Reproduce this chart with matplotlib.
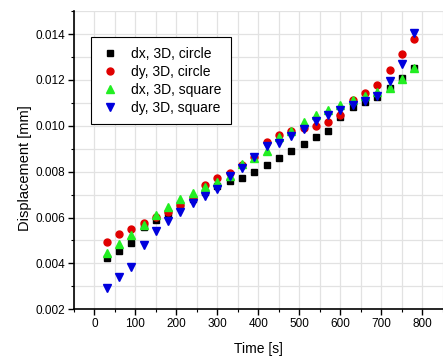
import matplotlib
matplotlib.use("Agg")
import matplotlib.pyplot as plt
from matplotlib.ticker import MultipleLocator

plt.rcParams['font.family'] = ['Liberation Sans', 'DejaVu Sans']

time_s = [30, 60, 90, 120, 150, 180, 210, 240, 270, 300, 330, 360, 390,
          420, 450, 480, 510, 540, 570, 600, 630, 660, 690, 720, 750, 780]

dx_circle = [0.00423, 0.00456, 0.00491, 0.00558, 0.00590, 0.00622, 0.00656, 0.00683,
             0.00713, 0.00739, 0.00760, 0.00773, 0.00799, 0.00831, 0.00861, 0.00891,
             0.00921, 0.00950, 0.00979, 0.01038, 0.01080, 0.01103, 0.01126, 0.01164,
             0.01208, 0.01251]
dy_circle = [0.00495, 0.00529, 0.00552, 0.00578, 0.00603, 0.00624, 0.00655, 0.00684,
             0.00744, 0.00772, 0.00796, 0.00830, 0.00862, 0.00931, 0.00962, 0.00979,
             0.00992, 0.01001, 0.01017, 0.01046, 0.01113, 0.01145, 0.01177, 0.01244,
             0.01313, 0.01378]
dx_square = [0.00447, 0.00485, 0.00525, 0.00569, 0.00611, 0.00648, 0.00681, 0.00706,
             0.00732, 0.00754, 0.00783, 0.00833, 0.00860, 0.00891, 0.00950, 0.00978,
             0.01017, 0.01046, 0.01070, 0.01090, 0.01113, 0.01128, 0.01148, 0.01166,
             0.01206, 0.01251]
dy_square = [0.00293, 0.00340, 0.00386, 0.00479, 0.00543, 0.00587, 0.00625, 0.00662,
             0.00694, 0.00724, 0.00779, 0.00815, 0.00863, 0.00913, 0.00924, 0.00955,
             0.00985, 0.01023, 0.01046, 0.01070, 0.01091, 0.01109, 0.01128, 0.01197,
             0.01269, 0.01404]

labels = ["dx, 3D, circle", "dy, 3D, circle", "dx, 3D, square", "dy, 3D, square"]

fig = plt.figure(figsize=(4.43, 3.58), dpi=100)
ax = fig.add_axes([0.1666, 0.136, 0.8334, 0.833])

ax.plot(time_s, dx_circle, 's', color='black', markersize=4.4, label=labels[0], zorder=3)
ax.plot(time_s, dy_circle, 'o', color='#e00000', markersize=5.0, label=labels[1], zorder=3)
ax.plot(time_s, dx_square, '^', color='#22ee22', markersize=5.5, label=labels[2], zorder=3)
ax.plot(time_s, dy_square, 'v', color='#0000dd', markersize=5.5, label=labels[3], zorder=3)

ax.set_xlim(-50, 850)
ax.set_ylim(0.002, 0.015)
ax.xaxis.set_major_locator(MultipleLocator(100))
ax.xaxis.set_minor_locator(MultipleLocator(50))
ax.yaxis.set_major_locator(MultipleLocator(0.002))
ax.yaxis.set_minor_locator(MultipleLocator(0.001))
ax.set_yticks([0.002, 0.004, 0.006, 0.008, 0.010, 0.012, 0.014])
ax.set_yticklabels(['0.002', '0.004', '0.006', '0.008', '0.010', '0.012', '0.014'])

ax.grid(True, which='both', color='#e2e2e2', linewidth=0.9, zorder=0)
ax.set_axisbelow(True)

for s in ['top', 'right']:
    ax.spines[s].set_visible(False)
for s in ['left', 'bottom']:
    ax.spines[s].set_linewidth(1.2)

ax.tick_params(which='major', direction='out', length=4, width=1.0, labelsize=8.5, pad=2)
ax.tick_params(which='minor', direction='out', length=2.5, width=0.8)

ax.set_xlabel('Time [s]', fontsize=10, labelpad=9)
ax.set_ylabel('Displacement [mm]', fontsize=10.5)
ax.yaxis.set_label_coords(-0.113, 0.474)

leg = ax.legend(loc='upper left', bbox_to_anchor=(0.046, 0.912), borderaxespad=0,
                fontsize=10, frameon=True, fancybox=False, edgecolor='black',
                framealpha=1, handletextpad=0.9, labelspacing=0.28, borderpad=0.7,
                handlelength=1.3)
leg.get_frame().set_linewidth(0.8)

fig.savefig('out.png', dpi=100)
